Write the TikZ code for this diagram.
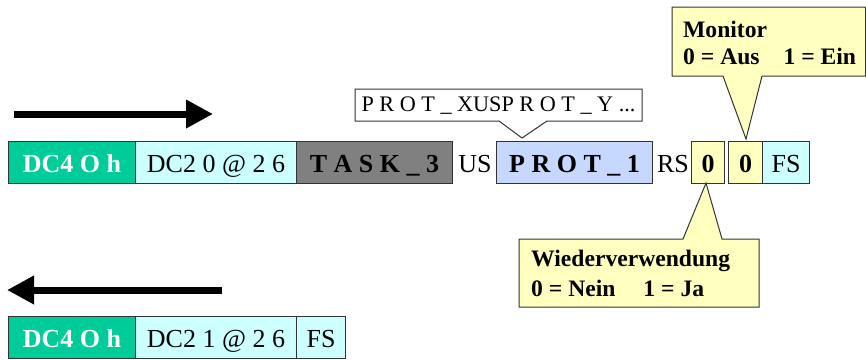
\documentclass[tikz,border=0pt]{standalone}
\usepackage{fontspec}
\setmainfont{Liberation Serif}
\usetikzlibrary{arrows.meta}
\definecolor{dcgreen}{RGB}{0,204,153}
\definecolor{dccyan}{RGB}{204,255,255}
\definecolor{taskgray}{RGB}{128,128,128}
\definecolor{protblue}{RGB}{199,216,255}
\definecolor{noteyellow}{RGB}{255,255,192}
\definecolor{edge}{RGB}{51,51,51}
\tikzset{
  cell/.style={draw=edge, line width=1pt, anchor=north west, minimum height=42pt,
    inner sep=0pt, text height=20pt, text depth=0pt,
    font=\fontsize{26}{30}\selectfont},
  bigtext/.style={inner sep=0pt, anchor=base, font=\fontsize{26}{30}\selectfont},
  notetext/.style={inner sep=0pt, anchor=base west, font=\fontsize{23.6}{28}\selectfont\bfseries},
  callout/.style={draw=edge, line width=1pt, line join=miter},
  bigarrow/.style={line width=7pt, -{Triangle[length=27pt,width=27pt]}}
}
\begin{document}
\begin{tikzpicture}[x=1pt,y=-1pt]
\useasboundingbox (0,0) rectangle (866,359);

% direction arrows
\coordinate (a1s) at (14,114);
\coordinate (a1e) at (213,114);
\draw[bigarrow] (a1s) -- (a1e);
\coordinate (a2s) at (222,290);
\coordinate (a2e) at (7,290);
\draw[bigarrow] (a2s) -- (a2e);

% row 1
\node[cell, fill=dcgreen, text=white, minimum width=127pt] (dc4a) at (8,141) {\bfseries DC4 O h};
\node[cell, fill=dccyan, minimum width=161pt] (dc2a) at (135,141) {DC2 0 @ 2 6};
\node[cell, fill=taskgray, minimum width=156pt] (task) at (296,141) {\bfseries T A S K \_ 3};
\node[bigtext] (us) at (475,172) {US};
\node[cell, fill=protblue, minimum width=156pt] (prot) at (496,141) {\bfseries P R O T \_ 1};
\node[bigtext] (rs) at (673,172) {RS};
\node[cell, fill=noteyellow, minimum width=33pt] (z1) at (691,141) {\bfseries 0};
\node[cell, fill=noteyellow, minimum width=34pt] (z2) at (728,141) {\bfseries 0};
\node[cell, fill=dccyan, minimum width=47pt] (fs1) at (762,141) {FS};

% row 2
\node[cell, fill=dcgreen, text=white, minimum width=127pt] (dc4b) at (8,316) {\bfseries DC4 O h};
\node[cell, fill=dccyan, minimum width=161pt] (dc2b) at (135,316) {DC2 1 @ 2 6};
\node[cell, fill=dccyan, minimum width=49pt] (fs2) at (296,316) {FS};

% callout PROT_X
\draw[callout, fill=white] (355,89) -- (642,89) -- (642,121) -- (547,121) -- (522,138)
  -- (499,121) -- (355,121) -- cycle;
\node[inner sep=0pt, font=\fontsize{22.2}{26}\selectfont] (protx) at (498.5,106)
  {P R O T \_ XUSP R O T \_ Y ...};

% callout Monitor
\draw[callout, fill=noteyellow] (672,7) -- (865.5,7) -- (865.5,76) -- (762,76) -- (746,139)
  -- (723,76) -- (672,76) -- cycle;
\node[notetext] (mon1) at (683,37) {Monitor};
\node[notetext] (mon2) at (683,64) {0 = Aus\hspace{24pt}1 = Ein};

% callout Wiederverwendung
\draw[callout, fill=noteyellow] (519,239) -- (683,239) -- (706,183) -- (722,239)
  -- (759,239) -- (759,307) -- (519,307) -- cycle;
\node[notetext] (wv1) at (531,266.5) {Wiederverwendung};
\node[notetext] (wv2) at (531,296) {0 = Nein\hspace{28pt}1 = Ja};
\end{tikzpicture}
\end{document}
